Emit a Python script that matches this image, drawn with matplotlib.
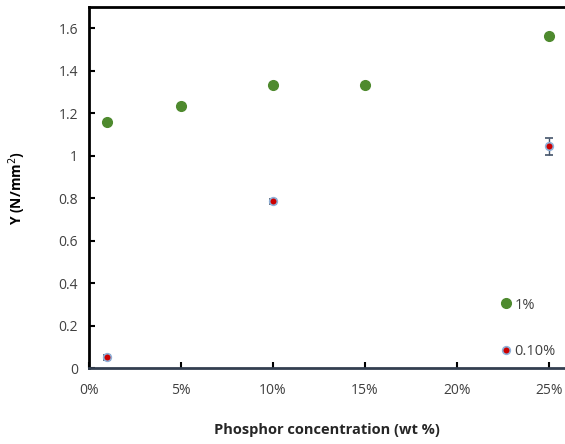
import numpy as np
import matplotlib
matplotlib.use("Agg")
import matplotlib.pyplot as plt
from matplotlib.ticker import FuncFormatter
from matplotlib.lines import Line2D

plt.rcParams['font.family'] = ['Open Sans', 'DejaVu Sans']

# data (concentration as fraction, Y in N/mm^2)
x_1pct = [0.01, 0.05, 0.10, 0.15, 0.25]
y_1pct = [1.16, 1.235, 1.335, 1.335, 1.565]
err_1pct = [0.012, 0.012, 0.012, 0.012, 0.012]

x_01pct = [0.01, 0.10, 0.25]
y_01pct = [0.05, 0.785, 1.045]
err_01pct = [0.01, 0.012, 0.04]

green = '#4e8a2e'
red = '#cc0000'
red_edge = '#8fb0d8'

fig = plt.figure(figsize=(5.65, 4.44), dpi=100)
ax = fig.add_axes([89/565, 76/444, 1 - 89/565, (368-7)/444])

ax.errorbar(x_1pct, y_1pct, yerr=err_1pct, fmt='o', color=green, ms=7,
            ecolor='#6a7f9a', elinewidth=1, capsize=3, zorder=3)
ax.errorbar(x_01pct, y_01pct, yerr=err_01pct, fmt='o', color=red, ms=5.5,
            mec=red_edge, mew=1.2, ecolor='#44546a', elinewidth=1,
            capsize=3, zorder=3)

ax.set_xlim(0, 0.2587)
ax.set_ylim(0, 1.7)
ax.set_xticks([0, 0.05, 0.10, 0.15, 0.20, 0.25])
ax.xaxis.set_major_formatter(FuncFormatter(lambda v, p: f"{v*100:.0f}%"))
ax.set_yticks([0, 0.2, 0.4, 0.6, 0.8, 1.0, 1.2, 1.4, 1.6])
ax.set_yticklabels(['0', '0.2', '0.4', '0.6', '0.8', '1', '1.2', '1.4', '1.6'])

ax.tick_params(direction='in', length=4, width=1.5, labelsize=10,
               labelcolor='#404040')
ax.tick_params(axis='x', pad=11)
ax.tick_params(axis='y', pad=8)

ax.spines['left'].set_linewidth(2)
ax.spines['left'].set_color('black')
ax.spines['top'].set_linewidth(2)
ax.spines['top'].set_color('black')
ax.spines['bottom'].set_linewidth(2)
ax.spines['bottom'].set_color('#333f50')
ax.spines['right'].set_visible(False)

ax.set_ylabel('Y (N/mm$^2$)', fontsize=10, fontweight='bold', labelpad=22)
ax.set_xlabel('Phosphor concentration (wt %)', fontsize=10.5,
              fontweight='bold', color='#262626', labelpad=18)

handles = [Line2D([], [], ls='none', marker='o', color=green, ms=7),
           Line2D([], [], ls='none', marker='o', color=red, ms=5.5,
                  mec=red_edge, mew=1.2)]
leg = ax.legend(handles, ['1%', '0.10%'], loc='lower left',
                bbox_to_anchor=(0.845, 0.009), frameon=False,
                fontsize=10.5, handletextpad=0.0, labelspacing=2.15,
                handlelength=1.2, borderaxespad=0)
for t in leg.get_texts():
    t.set_color('#404040')

fig.savefig('out.png', dpi=100)
